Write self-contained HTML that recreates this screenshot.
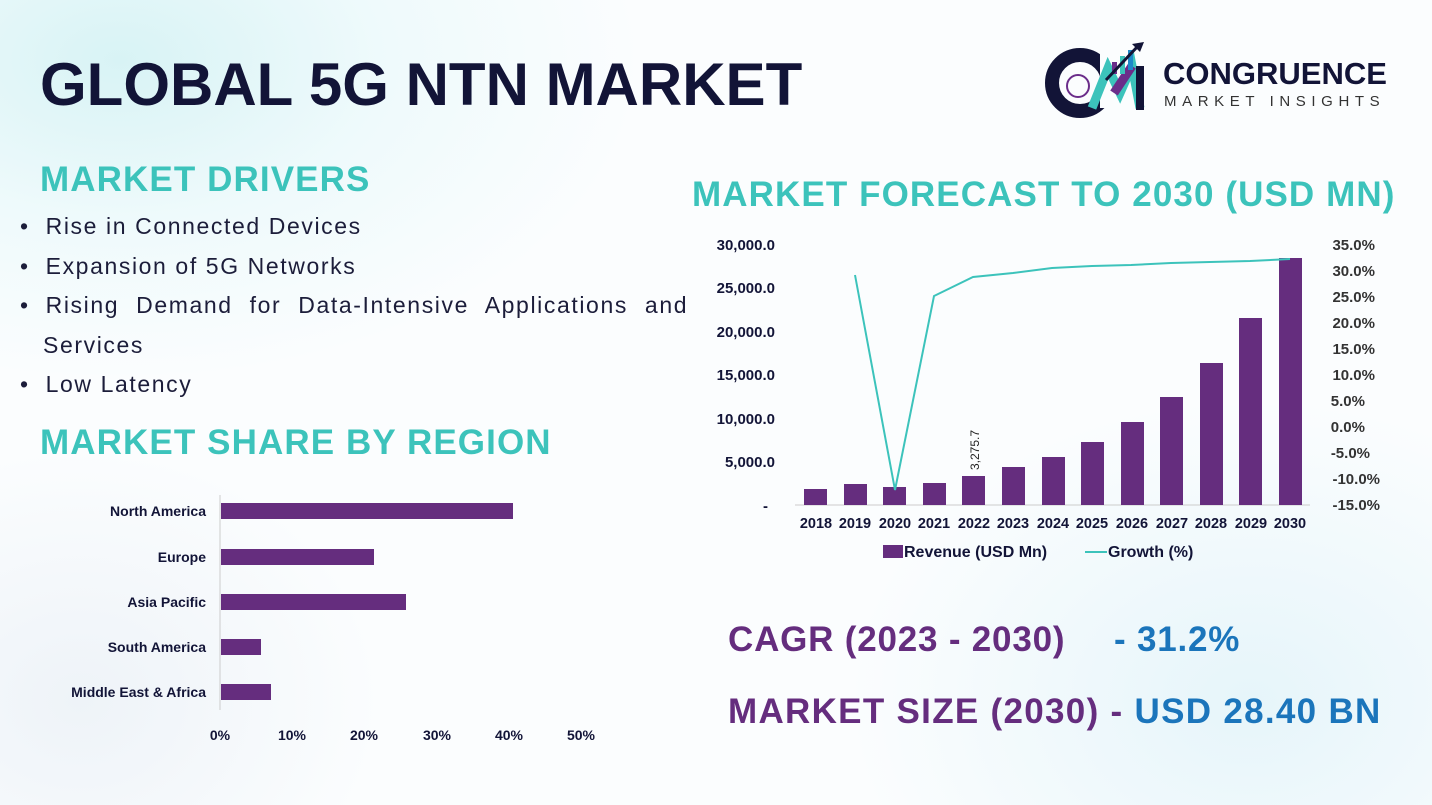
<!DOCTYPE html>
<html><head><meta charset="utf-8"><style>
body{margin:0;width:1432px;height:805px;overflow:hidden;font-family:"Liberation Sans",sans-serif;
background:radial-gradient(ellipse 520px 320px at 120px 60px,#d8f3f5 0%,rgba(230,248,250,0.6) 50%,rgba(255,255,255,0) 100%),radial-gradient(ellipse 400px 300px at 1250px 700px,#e6f5fa 0%,rgba(255,255,255,0) 100%),radial-gradient(ellipse 300px 250px at 80px 700px,#eef3f8 0%,rgba(255,255,255,0) 100%),#fbfdfe;position:relative}
.a{position:absolute;white-space:nowrap}
h1{position:absolute;left:40px;top:50px;margin:0;font-size:60px;font-weight:900;color:#121437;letter-spacing:0px}
.t{font-weight:700;color:#3cc3bb;font-size:35px;letter-spacing:1.1px}
.li{font-size:23px;color:#1c1d3a;letter-spacing:1.6px}
</style></head><body>
<h1>GLOBAL 5G NTN MARKET</h1>
<svg class="a" style="left:1040px;top:38px" width="120" height="80">
<circle cx="40" cy="45" r="28" fill="none" stroke="#121437" stroke-width="14"/>
<rect x="60" y="10" width="40" height="60" fill="#fbfdfe"/>
<circle cx="38" cy="48" r="11" fill="none" stroke="#6b2d8a" stroke-width="2"/>
<path d="M52 70 L68 30 L80 55 L92 28 L100 70" fill="none" stroke="#3cc3bb" stroke-width="9"/>
<path d="M74 55 L92 28" stroke="#6b2d8a" stroke-width="9"/>
<rect x="96" y="28" width="8" height="44" fill="#121437"/>
<rect x="80" y="18" width="5" height="18" fill="#3cc3bb"/><rect x="88" y="12" width="5" height="20" fill="#1e88c8"/><rect x="72" y="24" width="5" height="12" fill="#6b2d8a"/>
<path d="M66 42 L98 8" stroke="#121437" stroke-width="3"/><path d="M92 6 L104 4 L100 14Z" fill="#121437"/>
</svg>
<div class="a" style="left:1163px;top:56px;font-size:31px;font-weight:900;color:#121437">CONGRUENCE</div>
<div class="a" style="left:1164px;top:93px;font-size:15px;letter-spacing:5.6px;color:#333">MARKET INSIGHTS</div>

<div class="a t" style="left:40px;top:160px">MARKET DRIVERS</div>
<div class="a li" style="left:20px;top:213px">•&nbsp; Rise in Connected Devices</div>
<div class="a li" style="left:20px;top:253px">•&nbsp; Expansion of 5G Networks</div>
<div class="a li" style="left:20px;top:292px">•&nbsp; <span style="word-spacing:9px">Rising Demand for Data-Intensive Applications and</span></div>
<div class="a li" style="left:43px;top:332px">Services</div>
<div class="a li" style="left:20px;top:371px">•&nbsp; Low Latency</div>
<div class="a t" style="left:40px;top:423px">MARKET SHARE BY REGION</div>
<div class="a t" style="left:692px;top:175px">MARKET FORECAST TO 2030 (USD MN)</div>

<svg class="a" style="left:0;top:0" width="1432" height="805" font-family="Liberation Sans,sans-serif" font-weight="700">
<g font-size="14" fill="#121437" text-anchor="end">
<text x="206" y="516">North America</text><text x="206" y="562">Europe</text><text x="206" y="607">Asia Pacific</text><text x="206" y="652">South America</text><text x="206" y="697">Middle East &amp; Africa</text>
</g>
<line x1="220" y1="495" x2="220" y2="710" stroke="#ccc"/>
<g fill="#652d7e">
<rect x="221" y="503" width="292" height="16"/><rect x="221" y="549" width="153" height="16"/><rect x="221" y="594" width="185" height="16"/><rect x="221" y="639" width="40" height="16"/><rect x="221" y="684" width="50" height="16"/>
</g>
<g font-size="14" fill="#121437" text-anchor="middle">
<text x="220" y="740">0%</text><text x="292" y="740">10%</text><text x="364" y="740">20%</text><text x="437" y="740">30%</text><text x="509" y="740">40%</text><text x="581" y="740">50%</text>
</g>
<g font-size="15" fill="#121437" text-anchor="end">
<text x="775" y="250">30,000.0</text><text x="775" y="293">25,000.0</text><text x="775" y="337">20,000.0</text><text x="775" y="380">15,000.0</text><text x="775" y="424">10,000.0</text><text x="775" y="467">5,000.0</text><text x="768" y="511">-</text>
</g>
<g font-size="15" fill="#333" text-anchor="end">
<text x="1375" y="250">35.0%</text><text x="1375" y="276">30.0%</text><text x="1375" y="302">25.0%</text><text x="1375" y="328">20.0%</text><text x="1375" y="354">15.0%</text><text x="1375" y="380">10.0%</text><text x="1365" y="406">5.0%</text><text x="1365" y="432">0.0%</text><text x="1370" y="458">-5.0%</text><text x="1380" y="484">-10.0%</text><text x="1380" y="510">-15.0%</text>
</g>
<line x1="795" y1="505" x2="1310" y2="505" stroke="#ccc"/>
<g fill="#652d7e">
<rect x="804" y="489" width="23" height="16"/><rect x="844" y="484" width="23" height="21"/><rect x="883" y="487" width="23" height="18"/><rect x="923" y="483" width="23" height="22"/><rect x="962" y="476" width="23" height="29"/><rect x="1002" y="467" width="23" height="38"/><rect x="1042" y="457" width="23" height="48"/><rect x="1081" y="442" width="23" height="63"/><rect x="1121" y="422" width="23" height="83"/><rect x="1160" y="397" width="23" height="108"/><rect x="1200" y="363" width="23" height="142"/><rect x="1239" y="318" width="23" height="187"/><rect x="1279" y="258" width="23" height="247"/>
</g>
<text x="979" y="470" font-size="12" font-weight="400" fill="#222" transform="rotate(-90 979 470)">3,275.7</text>
<polyline points="855,275 895,490 934,296 973,277 1013,273 1052,268 1092,266 1131,265 1171,263 1210,262 1250,261 1290,259" fill="none" stroke="#3cc3bb" stroke-width="2"/>
<g font-size="14.5" fill="#121437" text-anchor="middle">
<text x="816" y="528">2018</text><text x="855" y="528">2019</text><text x="895" y="528">2020</text><text x="934" y="528">2021</text><text x="974" y="528">2022</text><text x="1013" y="528">2023</text><text x="1053" y="528">2024</text><text x="1092" y="528">2025</text><text x="1132" y="528">2026</text><text x="1172" y="528">2027</text><text x="1211" y="528">2028</text><text x="1251" y="528">2029</text><text x="1290" y="528">2030</text>
</g>
<rect x="883" y="545" width="20" height="13" fill="#652d7e"/>
<text x="904" y="557" font-size="16" fill="#121437">Revenue (USD Mn)</text>
<line x1="1085" y1="552" x2="1107" y2="552" stroke="#3cc3bb" stroke-width="2"/>
<text x="1108" y="557" font-size="16" fill="#121437">Growth (%)</text>
</svg>
<div class="a" style="left:728px;top:620px;font-size:35px;font-weight:700;color:#652d7e;letter-spacing:0.8px">CAGR (2023 - 2030)</div>
<div class="a" style="left:1114px;top:620px;font-size:35px;font-weight:700;color:#1b75bb;letter-spacing:0.8px">- 31.2%</div>
<div class="a" style="left:728px;top:692px;font-size:35px;font-weight:700;color:#652d7e;letter-spacing:1.3px">MARKET SIZE (2030) - <span style="color:#1b75bb">USD 28.40 BN</span></div>
</body></html>
